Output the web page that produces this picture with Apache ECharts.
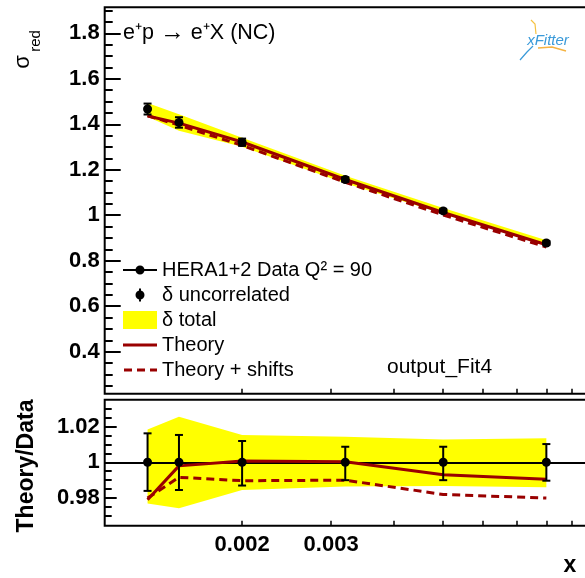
<!DOCTYPE html>
<html><head><meta charset="utf-8">
<script src="https://cdn.jsdelivr.net/npm/echarts@6/dist/echarts.min.js"></script>
<style>html,body{margin:0;padding:0;background:#fff}#c{width:585px;height:578px}</style>
</head><body><div id="c"></div>
<script>
// ---- data ----
const xValues = [0.0013, 0.0015, 0.002, 0.0032, 0.005, 0.008];
const sigmaData = [1.467, 1.408, 1.321, 1.157, 1.019, 0.878];
const sigmaUncLow = [1.443, 1.385, 1.305, 1.147, 1.010, 0.869];
const sigmaUncHigh = [1.491, 1.431, 1.337, 1.167, 1.028, 0.887];
const sigmaTotLow = [1.433, 1.372, 1.301, 1.141, 1.006, 0.866];
const sigmaTotHigh = [1.494, 1.444, 1.341, 1.174, 1.032, 0.890];
const sigmaTheory = [1.436, 1.405, 1.322, 1.157, 1.012, 0.870];
const sigmaTheoryShifts = [1.438, 1.396, 1.307, 1.145, 1.001, 0.860];
const ratioData = [1, 1, 1, 1, 1, 1];
const ratioUncLow = [0.984, 0.9845, 0.987, 0.990, 0.990, 0.9897];
const ratioUncHigh = [1.0162, 1.0153, 1.0119, 1.0087, 1.0087, 1.0102];
const ratioTotLow = [0.977, 0.9743, 0.9845, 0.9864, 0.9868, 0.986];
const ratioTotHigh = [1.0184, 1.0255, 1.0153, 1.0143, 1.0128, 1.0134];
const ratioTheory = [0.979, 0.998, 1.0007, 1.0003, 0.993, 0.9905];
const ratioTheoryShifts = [0.980, 0.9916, 0.9897, 0.990, 0.982, 0.980];
// ---- ticks ----
const xTicks = [0.002, 0.003, 0.004, 0.005, 0.006, 0.007, 0.008, 0.009];
const xTickLabels = [0.002, 0.003];
const sigmaTicks = [0.4, 0.6, 0.8, 1, 1.2, 1.4, 1.6, 1.8];
const sigmaMinorTicks = [0.25, 0.3, 0.35, 0.45, 0.5, 0.55, 0.65, 0.7, 0.75, 0.85, 0.9, 0.95,
  1.05, 1.1, 1.15, 1.25, 1.3, 1.35, 1.45, 1.5, 1.55, 1.65, 1.7, 1.75, 1.85, 1.9];
const ratioTicks = [0.98, 1, 1.02];
const ratioMinorTicks = [0.97, 0.975, 0.985, 0.99, 0.995, 1.005, 1.01, 1.015, 1.025, 1.03];
// ---- labels ----
const legendNames = ['HERA1+2 Data Q\u00B2 = 90', '\u03B4 uncorrelated', '\u03B4 total', 'Theory', 'Theory + shifts'];

const FONT = '"Liberation Sans", Arial, Helvetica, sans-serif';
const DARKRED = '#990000';
const YELLOW = '#ffff00';

const chart = echarts.init(document.getElementById('c'), null, {renderer: 'canvas'});

function pairs(ys) { return xValues.map((x, i) => [x, ys[i]]); }
function triples(lo, hi) { return xValues.map((x, i) => [x, lo[i], hi[i]]); }

function bandRender(lo, hi) {
  return function (params, api) {
    if (params.dataIndex !== 0) return;
    const pts = [];
    for (let i = 0; i < xValues.length; i++) pts.push(api.coord([xValues[i], hi[i]]));
    for (let i = xValues.length - 1; i >= 0; i--) pts.push(api.coord([xValues[i], lo[i]]));
    return {type: 'polygon', shape: {points: pts}, style: {fill: YELLOW}};
  };
}
function errRender(params, api) {
  const x = api.value(0);
  const pl = api.coord([x, api.value(1)]);
  const ph = api.coord([x, api.value(2)]);
  const st = {stroke: '#000', lineWidth: 2};
  return {type: 'group', children: [
    {type: 'line', shape: {x1: pl[0], y1: pl[1], x2: ph[0], y2: ph[1]}, style: st},
    {type: 'line', shape: {x1: pl[0] - 4, y1: pl[1], x2: pl[0] + 4, y2: pl[1]}, style: st},
    {type: 'line', shape: {x1: ph[0] - 4, y1: ph[1], x2: ph[0] + 4, y2: ph[1]}, style: st}
  ]};
}

const xMin = 0.0010694, xMax = 0.009760;
const yTopMin = 0.2153, yTopMax = 1.9143;
const yBotMin = 0.96453, yBotMax = 1.03502;

function xAxisCfg(gi, labels) {
  return {
    gridIndex: gi, type: 'log', logBase: 10, min: xMin, max: xMax,
    axisLine: {show: false},
    axisTick: {show: true, inside: true, length: 5, customValues: xTicks, lineStyle: {color: '#000', width: 1.5}},
    axisLabel: labels ? {show: true, customValues: xTickLabels, margin: 8, color: '#000',
      fontSize: 22, fontWeight: 'bold', fontFamily: FONT,
      formatter: v => String(+(+v).toPrecision(3))} : {show: false},
    splitLine: {show: false}, minorTick: {show: false}
  };
}
function yAxisMain(gi, min, max, ticks, len) {
  return {
    gridIndex: gi, type: 'value', min: min, max: max, position: 'left',
    axisLine: {show: false},
    axisTick: {show: true, inside: true, length: len, customValues: ticks, lineStyle: {color: '#000', width: 2}},
    axisLabel: {show: true, customValues: ticks, margin: 5, color: '#000', fontSize: 22, fontWeight: 'bold',
      fontFamily: FONT, formatter: v => String(+(+v).toPrecision(4))},
    splitLine: {show: false}
  };
}
function yAxisMinor(gi, min, max, ticks, len) {
  return {
    gridIndex: gi, type: 'value', min: min, max: max, position: 'left', offset: 0,
    axisLine: {show: false},
    axisTick: {show: true, inside: true, length: len, customValues: ticks, lineStyle: {color: '#000', width: 2}},
    axisLabel: {show: false}, splitLine: {show: false}
  };
}

const iconDataPt = 'path://M0,0 M34,18 M0,8 L34,8 L34,10 L0,10 Z M17,4.5 A4.5,4.5 0 1 1 17,13.5 A4.5,4.5 0 1 1 17,4.5 Z';
const iconUnc = 'path://M0,0 M34,18 M16,2.5 L18,2.5 L18,15.5 L16,15.5 Z M17,4.5 A4.5,4.5 0 1 1 17,13.5 A4.5,4.5 0 1 1 17,4.5 Z';
const iconLine = 'path://M0,0 M34,18 M0,7.5 L34,7.5 L34,10.5 L0,10.5 Z';
const iconDash = 'path://M0,0 M34,18 M1,7.5 L9,7.5 L9,10.5 L1,10.5 Z M14,7.5 L22,7.5 L22,10.5 L14,10.5 Z M27,7.5 L34,7.5 L34,10.5 L27,10.5 Z';

const gridBase = {left: 104.7, width: 485.3, show: true, borderColor: '#000', borderWidth: 2,
  backgroundColor: 'transparent', containLabel: false, outerBoundsMode: 'none'};

const option = {
  animation: false,
  backgroundColor: '#fff',
  grid: [
    Object.assign({}, gridBase, {top: 7.3, height: 386.4}),
    Object.assign({}, gridBase, {top: 399.7, height: 126})
  ],
  xAxis: [xAxisCfg(0, false), xAxisCfg(1, true)],
  yAxis: [
    yAxisMain(0, yTopMin, yTopMax, sigmaTicks, 16),
    yAxisMinor(0, yTopMin, yTopMax, sigmaMinorTicks, 8),
    yAxisMain(1, yBotMin, yBotMax, ratioTicks, 12),
    yAxisMinor(1, yBotMin, yBotMax, ratioMinorTicks, 7)
  ],
  legend: {
    orient: 'vertical', left: 123, top: 260, itemWidth: 34, itemHeight: 18, itemGap: 5,
    selectedMode: false, padding: 0,
    textStyle: {fontSize: 20, fontFamily: FONT, color: '#000'},
    itemStyle: {borderWidth: 0},
    data: [
      {name: legendNames[0], icon: iconDataPt},
      {name: legendNames[1], icon: iconUnc},
      {name: legendNames[2], icon: 'rect'},
      {name: legendNames[3], icon: iconLine},
      {name: legendNames[4], icon: iconDash}
    ]
  },
  series: [
    // top panel
    {name: legendNames[2], type: 'custom', xAxisIndex: 0, yAxisIndex: 0, renderItem: bandRender(sigmaTotLow, sigmaTotHigh),
      data: triples(sigmaTotLow, sigmaTotHigh), encode: {x: 0, y: [1, 2]}, itemStyle: {color: YELLOW}, z: 1, silent: true},
    {name: legendNames[3], type: 'line', xAxisIndex: 0, yAxisIndex: 0, data: pairs(sigmaTheory), symbol: 'none',
      lineStyle: {color: DARKRED, width: 3}, itemStyle: {color: DARKRED}, z: 3, silent: true},
    {name: legendNames[4], type: 'line', xAxisIndex: 0, yAxisIndex: 0, data: pairs(sigmaTheoryShifts), symbol: 'none',
      lineStyle: {color: DARKRED, width: 3, type: [8, 5]}, itemStyle: {color: DARKRED}, z: 3, silent: true},
    {name: legendNames[1], type: 'custom', xAxisIndex: 0, yAxisIndex: 0, renderItem: errRender,
      data: triples(sigmaUncLow, sigmaUncHigh), encode: {x: 0, y: [1, 2]}, itemStyle: {color: '#000'}, z: 4, silent: true},
    {name: legendNames[0], type: 'scatter', xAxisIndex: 0, yAxisIndex: 0, data: pairs(sigmaData), symbol: 'circle', symbolSize: 9,
      itemStyle: {color: '#000', opacity: 1}, z: 5, silent: true},
    // bottom panel
    {name: 'ratio band', type: 'custom', xAxisIndex: 1, yAxisIndex: 2, renderItem: bandRender(ratioTotLow, ratioTotHigh),
      data: triples(ratioTotLow, ratioTotHigh), encode: {x: 0, y: [1, 2]}, itemStyle: {color: YELLOW}, z: 1, silent: true,
      markLine: {silent: true, symbol: 'none', z: 2, label: {show: false}, lineStyle: {color: '#000', width: 2, type: 'solid'},
        data: [{yAxis: 1}]}},
    {name: 'ratio theory', type: 'line', xAxisIndex: 1, yAxisIndex: 2, data: pairs(ratioTheory), symbol: 'none',
      lineStyle: {color: DARKRED, width: 3}, itemStyle: {color: DARKRED}, z: 3, silent: true},
    {name: 'ratio theory shifts', type: 'line', xAxisIndex: 1, yAxisIndex: 2, data: pairs(ratioTheoryShifts), symbol: 'none',
      lineStyle: {color: DARKRED, width: 3, type: [8, 5]}, itemStyle: {color: DARKRED}, z: 3, silent: true},
    {name: 'ratio unc', type: 'custom', xAxisIndex: 1, yAxisIndex: 2, renderItem: errRender,
      data: triples(ratioUncLow, ratioUncHigh), encode: {x: 0, y: [1, 2]}, itemStyle: {color: '#000'}, z: 4, silent: true},
    {name: 'ratio data', type: 'scatter', xAxisIndex: 1, yAxisIndex: 2, data: pairs(ratioData), symbol: 'circle', symbolSize: 9,
      itemStyle: {color: '#000', opacity: 1}, z: 5, silent: true}
  ],
  graphic: [
    {type: 'text', left: 123, top: 21, style: {
      text: 'e\u207Ap {a|\u2192} e\u207AX (NC)', fontSize: 21.5, fontFamily: FONT, fill: '#000',
      rich: {a: {fontSize: 25, fontFamily: FONT, fill: '#000'}}}},
    {type: 'text', left: 387, top: 357, style: {text: 'output_Fit4', fontSize: 21, fontFamily: FONT, fill: '#000'}},
    {type: 'text', x: 23, y: 62, rotation: Math.PI / 2, style: {text: '\u03C3', fontSize: 22, fontFamily: FONT, fill: '#000', align: 'center', verticalAlign: 'middle'}},
    {type: 'text', x: 35.5, y: 41, rotation: Math.PI / 2, style: {text: 'red', fontSize: 15, fontFamily: FONT, fill: '#000', align: 'center', verticalAlign: 'middle'}},
    {type: 'text', x: 27, y: 466, rotation: Math.PI / 2, style: {text: 'Theory/Data', fontSize: 23, fontWeight: 'bold', fontFamily: FONT, fill: '#000', align: 'center', verticalAlign: 'middle'}},
    {type: 'text', x: 570, y: 566, style: {text: 'x', fontSize: 23, fontWeight: 'bold', fontFamily: FONT, fill: '#000', align: 'center', verticalAlign: 'middle'}},
    // xFitter logo
    {type: 'text', x: 548, y: 41, style: {text: 'xFitter', fontSize: 15, fontStyle: 'italic', fontFamily: FONT, fill: '#3a9ad9', align: 'center', verticalAlign: 'middle'}},
    {type: 'polyline', shape: {points: [[531, 20], [535, 24], [536, 34]]}, style: {stroke: '#f5c242', lineWidth: 1.2, fill: 'none'}},
    {type: 'polyline', shape: {points: [[538, 48], [552, 47], [566, 51]]}, style: {stroke: '#f5b342', lineWidth: 1.5, fill: 'none'}},
    {type: 'polyline', shape: {points: [[533, 46], [527, 52], [520, 60]]}, style: {stroke: '#3a9ad9', lineWidth: 1.2, fill: 'none'}}
  ]
};
chart.setOption(option);
</script>
</body></html>
